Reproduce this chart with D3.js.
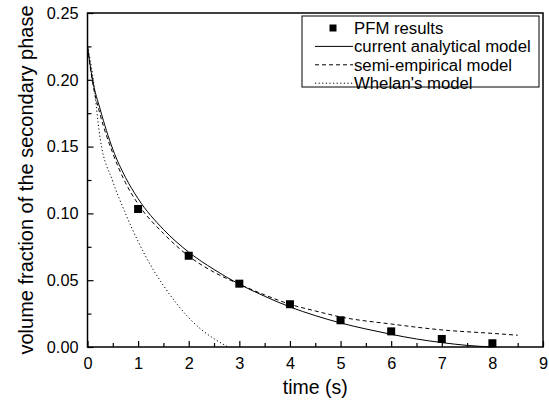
<!DOCTYPE html>
<html>
<head>
<meta charset="utf-8">
<script src="https://cdn.jsdelivr.net/npm/d3@7"></script>
<style>
  body { margin: 0; background: #fff; }
  text { font-family: "Liberation Sans", Arial, sans-serif; fill: #000; }
</style>
</head>
<body>
<svg id="chart" width="549" height="404"></svg>
<script>
// PFM simulation points
const pfmTime = [1, 2, 3, 4, 5, 6, 7, 8];
const pfmValue = [0.1033, 0.0683, 0.0474, 0.0320, 0.0200, 0.0117, 0.0060, 0.0028];

// current analytical model (solid)
const analyticTime = [0, 0.1, 0.25, 0.5, 0.75, 1, 1.5, 2, 2.5, 3, 3.5, 4, 4.5, 5, 5.5, 6, 6.5, 7, 7.5, 8];
const analyticValue = [0.225, 0.200, 0.178, 0.148, 0.127, 0.111, 0.088, 0.071, 0.058, 0.047, 0.038, 0.030, 0.0235, 0.018, 0.0135, 0.0095, 0.006, 0.0033, 0.0012, 0];

// semi-empirical model (dashed)
const semiTime = [0, 0.1, 0.25, 0.5, 0.75, 1, 1.5, 2, 2.5, 3, 3.5, 4, 4.5, 5, 6, 7, 8, 8.5];
const semiValue = [0.225, 0.198, 0.174, 0.145, 0.123, 0.107, 0.085, 0.068, 0.056, 0.047, 0.039, 0.032, 0.027, 0.0225, 0.0172, 0.0128, 0.0102, 0.0088];

// Whelan's model (dotted)
const whelanTime = [0, 0.1, 0.25, 0.5, 0.75, 1, 1.25, 1.5, 1.75, 2, 2.25, 2.5, 2.78];
const whelanValue = [0.225, 0.204, 0.156, 0.124, 0.100, 0.079, 0.061, 0.046, 0.033, 0.022, 0.013, 0.0062, 0];

const xTicks = [0, 1, 2, 3, 4, 5, 6, 7, 8, 9];
const yTicks = [0, 0.05, 0.10, 0.15, 0.20, 0.25];

const legendItems = [
    {label: 'PFM results', type: 'square'},
    {label: 'current analytical model', type: 'line', dash: null},
    {label: 'semi-empirical model', type: 'line', dash: '4,3'},
    {label: "Whelan's model", type: 'line', dash: '1.2,2.4'}
];

const svg = d3.select('#chart');
const margin = {left: 87.5, top: 13, right: 6, bottom: 57};
const width = 549 - margin.left - margin.right;
const height = 404 - margin.top - margin.bottom;

const x = d3.scaleLinear().domain([0, 9]).range([0, width]);
const y = d3.scaleLinear().domain([0, 0.25]).range([height, 0]);

const g = svg.append('g').attr('transform', 'translate(' + margin.left + ',' + margin.top + ')');

// inward ticks, major and minor
const xAxis = d3.axisBottom(x).tickValues(xTicks).tickSizeInner(-6).tickSizeOuter(0).tickPadding(10).tickFormat(d3.format('d'));
const xMinor = d3.axisBottom(x).tickValues(d3.range(0.5, 9, 1)).tickSizeInner(-4).tickSizeOuter(0).tickFormat('');
const yAxis = d3.axisLeft(y).tickValues(yTicks).tickSizeInner(-6).tickSizeOuter(0).tickPadding(9).tickFormat(d3.format('.2f'));
const yMinor = d3.axisLeft(y).tickValues(d3.range(0.025, 0.25, 0.05)).tickSizeInner(-4).tickSizeOuter(0).tickFormat('');

const gx = g.append('g').attr('transform', 'translate(0,' + height + ')').call(xAxis);
g.append('g').attr('transform', 'translate(0,' + height + ')').call(xMinor);
const gy = g.append('g').call(yAxis);
g.append('g').call(yMinor);

g.selectAll('.domain').remove();
g.selectAll('.tick line').attr('stroke', '#000').attr('stroke-width', 1.2);
g.selectAll('.tick text').attr('font-size', 16.3).attr('font-family', '"Liberation Sans", Arial, sans-serif');
gx.selectAll('.tick text').attr('dy', '0.71em');

// curves
const makeLine = () => d3.line().x((d) => x(d[0])).y((d) => y(d[1])).curve(d3.curveMonotoneX);
const curves = [
    {t: analyticTime, v: analyticValue, dash: null},
    {t: semiTime, v: semiValue, dash: '4,3'},
    {t: whelanTime, v: whelanValue, dash: '1.2,2.4'}
];
curves.forEach((c) => {
    g.append('path')
        .datum(c.t.map((t, i) => [t, c.v[i]]))
        .attr('d', makeLine())
        .attr('fill', 'none')
        .attr('stroke', '#000')
        .attr('stroke-width', 1)
        .attr('stroke-dasharray', c.dash);
});

// PFM squares
const sq = 8;
g.selectAll('.pfm').data(pfmTime).enter().append('rect')
    .classed('pfm', true)
    .attr('x', (d) => x(d) - sq / 2)
    .attr('y', (d, i) => y(pfmValue[i]) - sq / 2)
    .attr('width', sq)
    .attr('height', sq)
    .attr('fill', '#000');

// frame
g.append('rect')
    .attr('x', 0).attr('y', 0)
    .attr('width', width).attr('height', height)
    .attr('fill', 'none')
    .attr('stroke', '#000')
    .attr('stroke-width', 1.5);

// legend
const legend = svg.append('g').attr('transform', 'translate(302,16)');
legend.append('rect')
    .attr('width', 237).attr('height', 71)
    .attr('fill', '#fff')
    .attr('stroke', '#000')
    .attr('stroke-width', 1);
legendItems.forEach((item, i) => {
    const cy = 12 + i * 18.4;
    if (item.type === 'square') {
        legend.append('rect')
            .attr('x', 31 - 3.5).attr('y', cy - 3.5)
            .attr('width', 7).attr('height', 7)
            .attr('fill', '#000');
    } else {
        legend.append('line')
            .attr('x1', 13).attr('x2', 51)
            .attr('y1', cy).attr('y2', cy)
            .attr('stroke', '#000')
            .attr('stroke-width', 1)
            .attr('stroke-dasharray', item.dash);
    }
    // text in the original is slightly wider than plain Arial
    legend.append('text')
        .attr('transform', 'translate(52,' + cy + ') scale(1.06,1)')
        .attr('dy', '0.36em')
        .attr('font-size', 15.8)
        .text(item.label);
});

// axis titles
svg.append('text')
    .attr('x', margin.left + width / 2)
    .attr('y', 394)
    .attr('text-anchor', 'middle')
    .attr('font-size', 19.5)
    .text('time (s)');

svg.append('text')
    .attr('transform', 'translate(33,180) rotate(-90)')
    .attr('text-anchor', 'middle')
    .attr('font-size', 20)
    .text('volume fraction of the secondary phase');
</script>
</body>
</html>
